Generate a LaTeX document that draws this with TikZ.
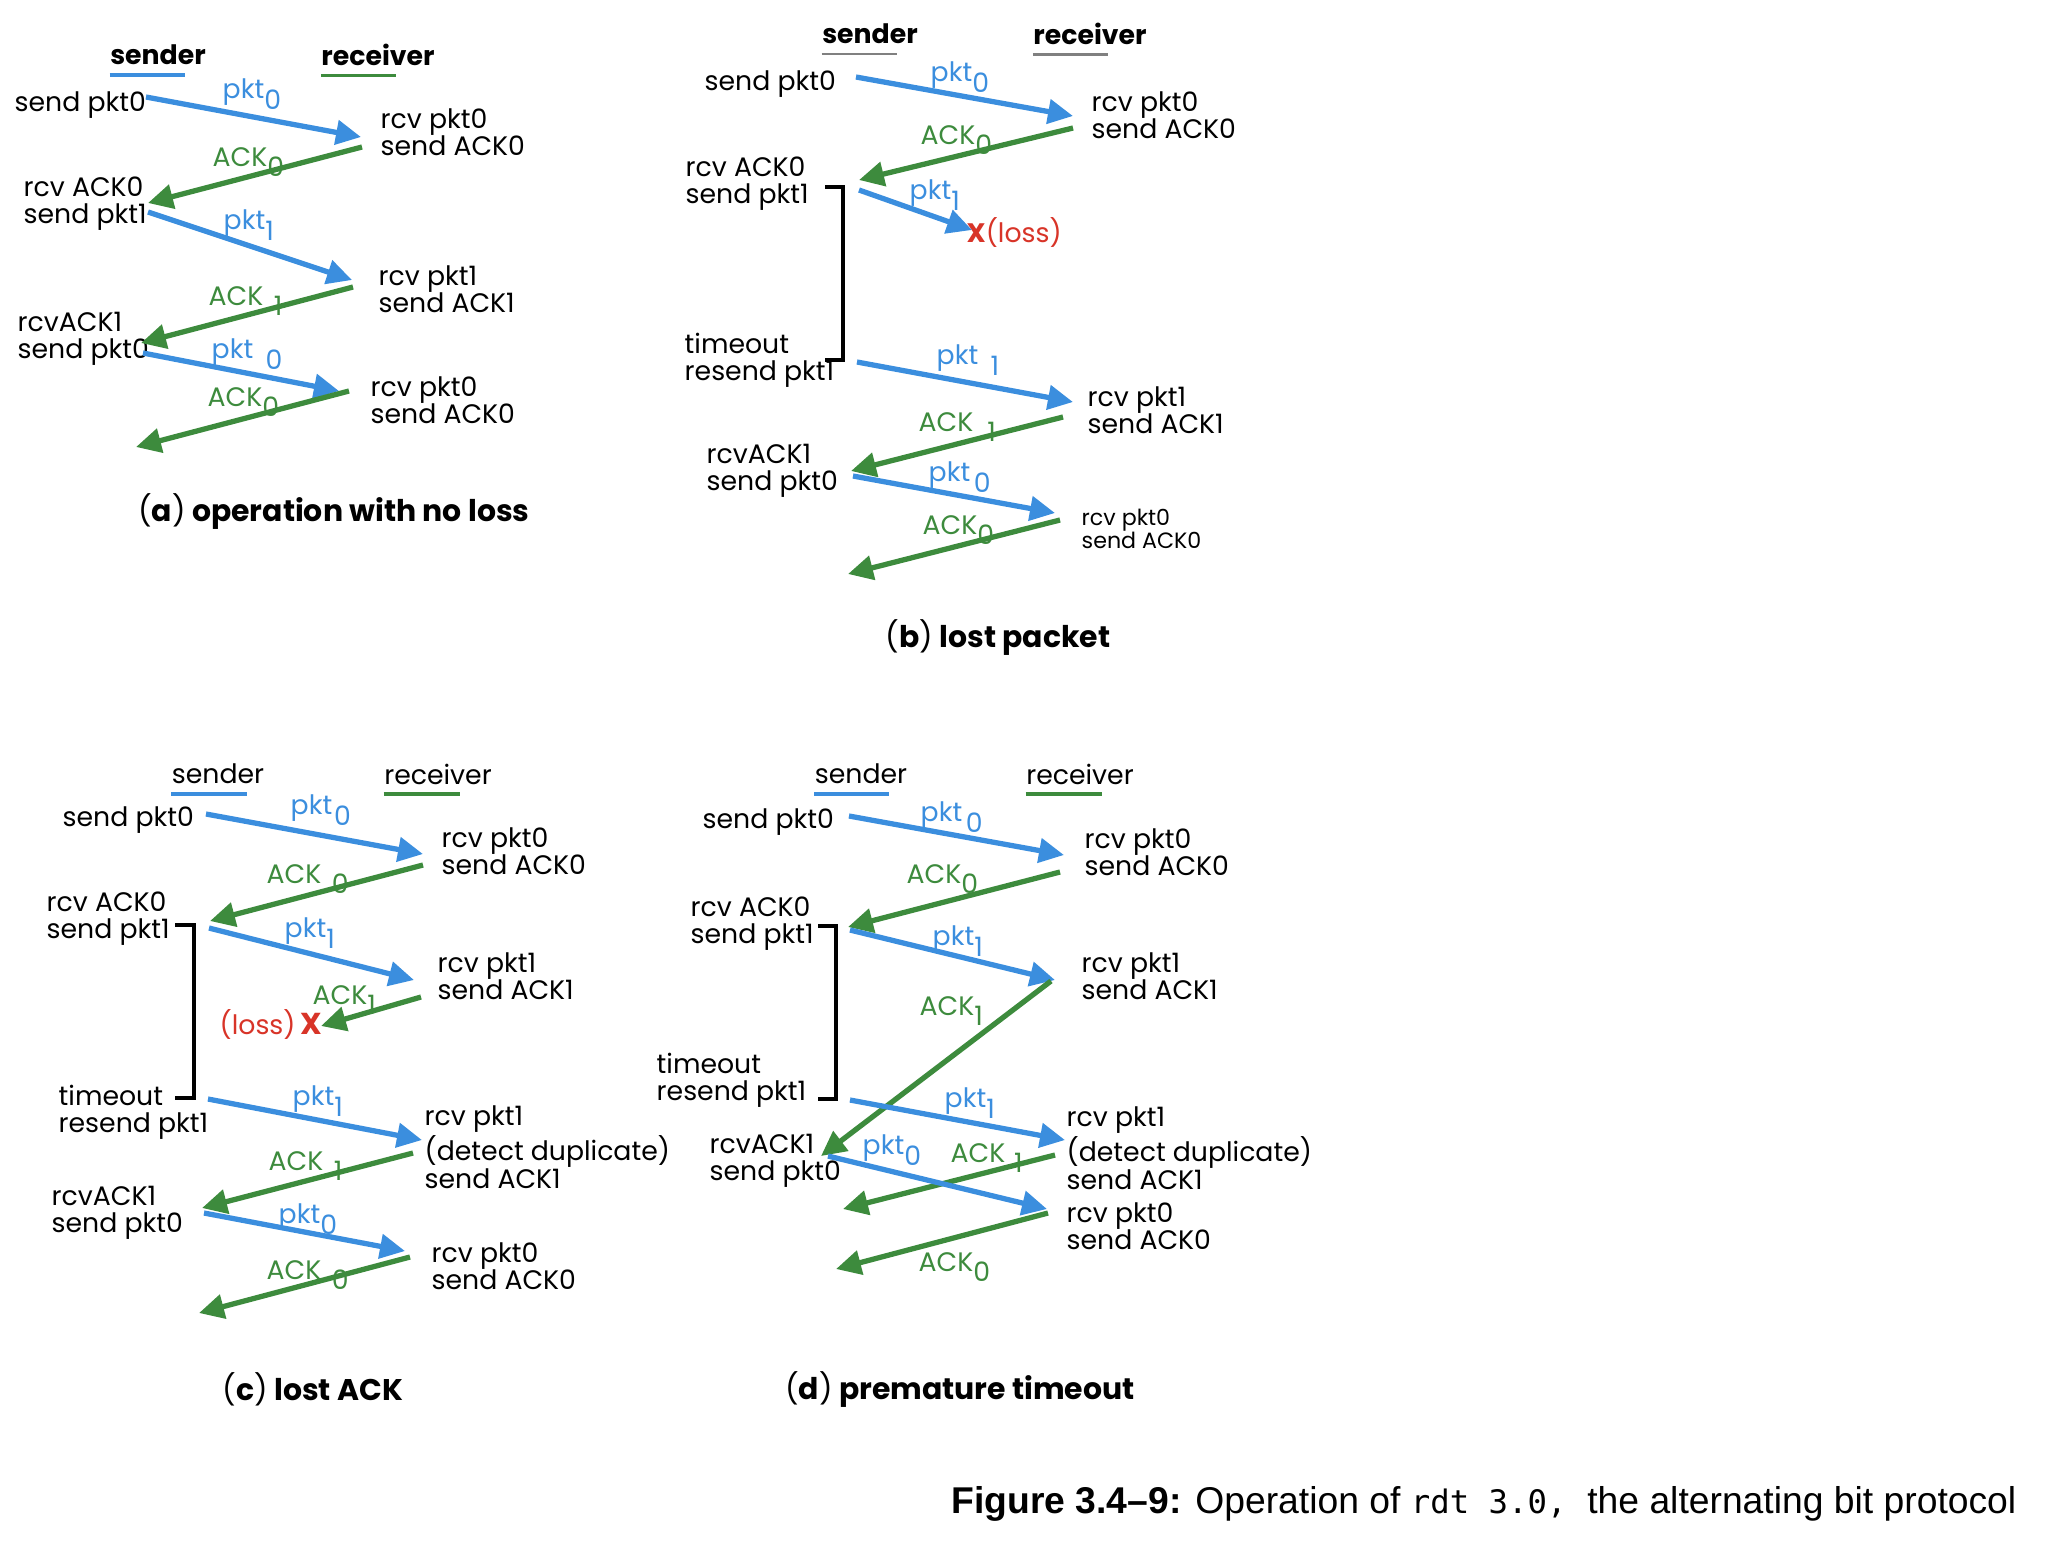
\documentclass[tikz,border=0pt]{standalone}
\usepackage{fontspec}
\newfontfamily\geofont{Poppins}
\newfontfamily\capfont{Liberation Sans}
\newfontfamily\codefont{DejaVu Sans Mono}
\usetikzlibrary{arrows.meta}
\definecolor{pktblue}{RGB}{59,142,222}
\definecolor{ackgreen}{RGB}{61,139,61}
\definecolor{lossred}{RGB}{216,52,40}
% sequence number set as a lowered full-size digit
\newcommand{\seq}[3][0pt]{#2\kern#1\raisebox{-0.4em}{#3}}

\begin{document}
\begin{tikzpicture}[
  x=0.01cm, y=-0.01cm,
  font=\geofont\fontsize{7.6}{7.7}\selectfont,
  evt/.style={anchor=west, align=left, inner sep=0pt},
  smallevt/.style={evt, font=\geofont\fontsize{6.3}{6.4}\selectfont},
  tag/.style={anchor=west, inner sep=0pt},
  pkttag/.style={tag, text=pktblue},
  acktag/.style={tag, text=ackgreen},
  head/.style={inner sep=0pt},
  bhead/.style={head, font=\geofont\bfseries\fontsize{7.6}{7.7}\selectfont},
  uline/.style={line width=1.1pt},
  pkt/.style={draw=pktblue, line width=1.5pt, -{Triangle[length=2.5mm, width=2.4mm]}},
  ack/.style={pkt, draw=ackgreen},
  brk/.style={draw=black, line width=1.1pt},
  subcap/.style={inner sep=0pt, font=\geofont\bfseries\fontsize{8.5}{10}\selectfont}
]
  \useasboundingbox (0,0) rectangle (2058,1566);

  % (a) operation with no loss
  \node[bhead] (a-snd) at (158,55) {sender};
  \node[bhead] (a-rcv) at (378,55) {receiver};
  \draw[uline, pktblue] (a-snd.south west) ++(0,9) -- ++(75,0);
  \draw[uline, ackgreen] (a-rcv.south west) ++(0,9) -- ++(75,0);
  \node[evt] (a-e1) at (14,105) {send pkt0};
  \node[evt] (a-e2) at (380,132) {rcv pkt0\\send ACK0};
  \node[evt] (a-e3) at (23,204) {rcv ACK0\\send pkt1};
  \node[evt] (a-e4) at (378,289) {rcv pkt1\\send ACK1};
  \node[evt] (a-e5) at (17,339) {rcvACK1\\send pkt0};
  \node[evt] (a-e6) at (370,400) {rcv pkt0\\send ACK0};
  \coordinate (a1s) at (146,97);   \coordinate (a1t) at (361,137);
  \coordinate (a2s) at (362,147);  \coordinate (a2t) at (148,203);
  \coordinate (a3s) at (148,212);  \coordinate (a3t) at (352,280);
  \coordinate (a4s) at (353,287);  \coordinate (a4t) at (141,343);
  \coordinate (a5s) at (143,353);  \coordinate (a5t) at (339,391);
  \coordinate (a6s) at (349,391);  \coordinate (a6t) at (136,447);
  \draw[pkt] (a1s) -- (a1t);
  \draw[ack] (a2s) -- (a2t);
  \draw[pkt] (a3s) -- (a3t);
  \draw[ack] (a4s) -- (a4t);
  \draw[pkt] (a5s) -- (a5t);
  \draw[ack] (a6s) -- (a6t);
  \node[pkttag] (a-l1) at (222,94) {\seq{pkt}{0}};
  \node[acktag] (a-l2) at (212,162) {\seq{ACK}{0}};
  \node[pkttag] (a-l3) at (223,225) {\seq{pkt}{1}};
  \node[acktag] (a-l4) at (208,301) {\seq[3pt]{ACK}{1}};
  \node[pkttag] (a-l5) at (211,354) {\seq[3.5pt]{pkt}{0}};
  \node[acktag] (a-l6) at (207,402) {\seq{ACK}{0}};
  \node[subcap] (a-cap) at (334,512) {\textmd{(}a\textmd{)} operation with no loss};

  % (b) lost packet
  \node[bhead] (b-snd) at (870,34) {sender};
  \node[bhead] (b-rcv) at (1090,34) {receiver};
  \draw[gray, line width=0.6pt] (b-snd.south west) ++(0,9) -- ++(75,0);
  \draw[gray, line width=0.6pt] (b-rcv.south west) ++(0,9) -- ++(75,0);
  \node[evt] (b-e1) at (704,84) {send pkt0};
  \node[evt] (b-e2) at (1091,115) {rcv pkt0\\send ACK0};
  \node[evt] (b-e3) at (685,184) {rcv ACK0\\send pkt1};
  \node[evt] (b-e4) at (684,360) {timeout\\resend pkt1};
  \node[evt] (b-e5) at (1087,410) {rcv pkt1\\send ACK1};
  \node[evt] (b-e6) at (706,471) {rcvACK1\\send pkt0};
  \node[smallevt] (b-e7) at (1081,529) {rcv pkt0\\send ACK0};
  \node[tag, text=lossred] (b-loss) at (966,232) {\textbf{X}(loss)};
  \coordinate (b-bt) at (825,187);  \coordinate (b-bb) at (825,360);
  \draw[brk] (b-bt) -- ++(18,0) |- (b-bb);
  \coordinate (b1s) at (856,77);   \coordinate (b1t) at (1073,116);
  \coordinate (b2s) at (1073,128); \coordinate (b2t) at (859,180);
  \coordinate (b3s) at (859,190);  \coordinate (b3t) at (972,230);
  \coordinate (b4s) at (857,362);  \coordinate (b4t) at (1073,402);
  \coordinate (b5s) at (1063,417); \coordinate (b5t) at (851,471);
  \coordinate (b6s) at (853,476);  \coordinate (b6t) at (1055,513);
  \coordinate (b7s) at (1060,520); \coordinate (b7t) at (848,574);
  \draw[pkt] (b1s) -- (b1t);
  \draw[ack] (b2s) -- (b2t);
  \draw[pkt] (b3s) -- (b3t);
  \draw[pkt] (b4s) -- (b4t);
  \draw[ack] (b5s) -- (b5t);
  \draw[pkt] (b6s) -- (b6t);
  \draw[ack] (b7s) -- (b7t);
  \node[pkttag] (b-l1) at (930,77) {\seq{pkt}{0}};
  \node[acktag] (b-l2) at (920,140) {\seq{ACK}{0}};
  \node[pkttag] (b-l3) at (909,195) {\seq{pkt}{1}};
  \node[pkttag] (b-l4) at (936,360) {\seq[3.5pt]{pkt}{1}};
  \node[acktag] (b-l5) at (918,427) {\seq[4pt]{ACK}{1}};
  \node[pkttag] (b-l6) at (928,477) {\seq[1pt]{pkt}{0}};
  \node[acktag] (b-l7) at (922,530) {\seq{ACK}{0}};
  \node[subcap] (b-cap) at (998,637) {\textmd{(}b\textmd{)} lost packet};

  % (c) lost ACK
  \node[head] (c-snd) at (218,774) {sender};
  \node[head] (c-rcv) at (438,774) {receiver};
  \draw[uline, pktblue] (c-snd.south west) ++(0,9) -- ++(76,0);
  \draw[uline, ackgreen] (c-rcv.south west) ++(0,9) -- ++(76,0);
  \node[evt] (c-e1) at (62,820) {send pkt0};
  \node[evt] (c-e2) at (441,851) {rcv pkt0\\send ACK0};
  \node[evt] (c-e3) at (46,919) {rcv ACK0\\send pkt1};
  \node[evt] (c-e4) at (437,976) {rcv pkt1\\send ACK1};
  \node[evt] (c-e5) at (58,1112) {timeout\\resend pkt1};
  \node[evt] (c-e6) at (424,1147) {rcv pkt1\\(detect duplicate)\\send ACK1};
  \node[evt] (c-e7) at (51,1213) {rcvACK1\\send pkt0};
  \node[evt] (c-e8) at (431,1266) {rcv pkt0\\send ACK0};
  \node[tag, text=lossred] (c-loss) at (219,1024) {(loss)\,{\fontsize{8.6}{9}\selectfont\textbf{X}}};
  \coordinate (c-bt) at (175,925);  \coordinate (c-bb) at (175,1098);
  \draw[brk] (c-bt) -- ++(19,0) |- (c-bb);
  \coordinate (c1s) at (206,814);  \coordinate (c1t) at (423,854);
  \coordinate (c2s) at (423,865);  \coordinate (c2t) at (210,921);
  \coordinate (c3s) at (209,928);  \coordinate (c3t) at (414,980);
  \coordinate (c4s) at (421,997);  \coordinate (c4t) at (321,1026);
  \coordinate (c5s) at (208,1099); \coordinate (c5t) at (422,1140);
  \coordinate (c6s) at (413,1153); \coordinate (c6t) at (202,1208);
  \coordinate (c7s) at (204,1213); \coordinate (c7t) at (405,1251);
  \coordinate (c8s) at (410,1257); \coordinate (c8t) at (199,1313);
  \draw[pkt] (c1s) -- (c1t);
  \draw[ack] (c2s) -- (c2t);
  \draw[pkt] (c3s) -- (c3t);
  \draw[ack] (c4s) -- (c4t);
  \draw[pkt] (c5s) -- (c5t);
  \draw[ack] (c6s) -- (c6t);
  \draw[pkt] (c7s) -- (c7t);
  \draw[ack] (c8s) -- (c8t);
  \node[pkttag] (c-l1) at (290,810) {\seq[0.5pt]{pkt}{0}};
  \node[acktag] (c-l2) at (266,879) {\seq[3pt]{ACK}{0}};
  \node[pkttag] (c-l3) at (284,933) {\seq{pkt}{1}};
  \node[acktag] (c-l4) at (312,1000) {\seq{ACK}{1}};
  \node[pkttag] (c-l5) at (292,1101) {\seq{pkt}{1}};
  \node[acktag] (c-l6) at (268,1166) {\seq[3pt]{ACK}{1}};
  \node[pkttag] (c-l7) at (278,1219) {\seq{pkt}{0}};
  \node[acktag] (c-l8) at (266,1275) {\seq[3pt]{ACK}{0}};
  \node[subcap] (c-cap) at (313,1389) {\textmd{(}c\textmd{)} lost ACK};

  % (d) premature timeout
  \node[head] (d-snd) at (861,774) {sender};
  \node[head] (d-rcv) at (1080,774) {receiver};
  \draw[uline, pktblue] (d-snd.south west) ++(0,9) -- ++(75,0);
  \draw[uline, ackgreen] (d-rcv.south west) ++(0,9) -- ++(76,0);
  \node[evt] (d-e1) at (702,822) {send pkt0};
  \node[evt] (d-e2) at (1084,852) {rcv pkt0\\send ACK0};
  \node[evt] (d-e3) at (690,924) {rcv ACK0\\send pkt1};
  \node[evt] (d-e4) at (1081,976) {rcv pkt1\\send ACK1};
  \node[evt] (d-e5) at (656,1080) {timeout\\resend pkt1};
  \node[evt] (d-e6) at (1066,1148) {rcv pkt1\\(detect duplicate)\\send ACK1};
  \node[evt] (d-e7) at (709,1161) {rcvACK1\\send pkt0};
  \node[evt] (d-e8) at (1066,1226) {rcv pkt0\\send ACK0};
  \coordinate (d-bt) at (818,926);  \coordinate (d-bb) at (818,1099);
  \draw[brk] (d-bt) -- ++(18,0) |- (d-bb);
  \coordinate (d1s) at (849,816);   \coordinate (d1t) at (1064,855);
  \coordinate (d2s) at (1060,872);  \coordinate (d2t) at (848,927);
  \coordinate (d3s) at (850,930);   \coordinate (d3t) at (1055,980);
  \coordinate (d4s) at (1051,981);  \coordinate (d4t) at (821,1156);
  \coordinate (d5s) at (850,1100);  \coordinate (d5t) at (1065,1140);
  \coordinate (d6s) at (1055,1155); \coordinate (d6t) at (843,1209);
  \coordinate (d7s) at (828,1156);  \coordinate (d7t) at (1047,1209);
  \coordinate (d8s) at (1048,1213); \coordinate (d8t) at (836,1269);
  \draw[pkt] (d1s) -- (d1t);
  \draw[ack] (d2s) -- (d2t);
  \draw[pkt] (d3s) -- (d3t);
  \draw[ack] (d4s) -- (d4t);
  \draw[pkt] (d5s) -- (d5t);
  \draw[ack] (d6s) -- (d6t);
  \draw[pkt] (d7s) -- (d7t);
  \draw[ack] (d8s) -- (d8t);
  \node[pkttag] (d-l1) at (920,817) {\seq[1pt]{pkt}{0}};
  \node[acktag] (d-l2) at (906,879) {\seq{ACK}{0}};
  \node[pkttag] (d-l3) at (932,941) {\seq{pkt}{1}};
  \node[acktag] (d-l4) at (919,1011) {\seq{ACK}{1}};
  \node[pkttag] (d-l5) at (944,1103) {\seq{pkt}{1}};
  \node[acktag] (d-l6) at (950,1158) {\seq[2.5pt]{ACK}{1}};
  \node[pkttag] (d-l7) at (862,1150) {\seq{pkt}{0}};
  \node[acktag] (d-l8) at (918,1267) {\seq{ACK}{0}};
  \node[subcap] (d-cap) at (960,1389) {\textmd{(}d\textmd{)} premature timeout};

  % figure caption
  \node[anchor=east, inner sep=0pt, font=\capfont\fontsize{10.6}{12}\selectfont] (fig) at (2017,1504)
    {\textbf{Figure 3.4–9:} Operation of {\codefont\fontsize{9.2}{12}\selectfont rdt 3.0,}\ \ the alternating bit protocol};
\end{tikzpicture}
\end{document}
